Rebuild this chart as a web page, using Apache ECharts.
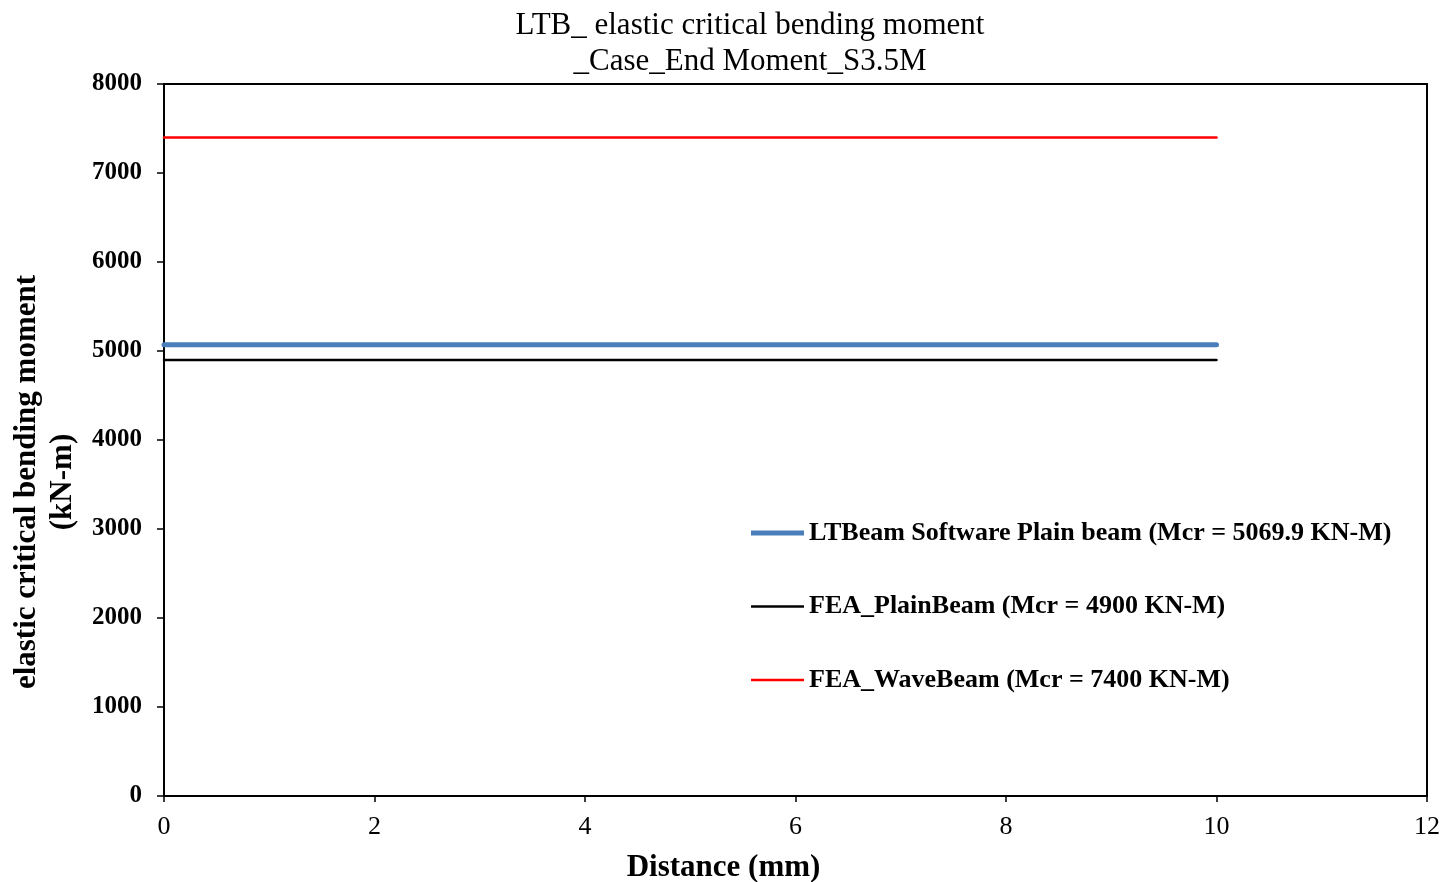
<!DOCTYPE html>
<html><head><meta charset="utf-8">
<script src="https://cdn.jsdelivr.net/npm/echarts@6/dist/echarts.min.js"></script>
<style>html,body{margin:0;padding:0;background:#fff}#c{width:1443px;height:882px}</style>
</head><body><div id="c"></div>
<script>
const xValues = [0, 10];
const seriesNames = [
  'LTBeam Software Plain beam (Mcr = 5069.9 KN-M)',
  'FEA_PlainBeam (Mcr = 4900 KN-M)',
  'FEA_WaveBeam (Mcr = 7400 KN-M)'
];
const ltbeamValues = [5069.9, 5069.9];
const feaPlainValues = [4900, 4900];
const feaWaveValues = [7400, 7400];
const colors = ['#4a7ebb', '#000000', '#ff0000'];
const widths = [5, 2.5, 2.5];
const legendIcons = ['path://M0,0H106V10H0Z', 'path://M0,0H106V5H0Z', 'path://M0,0H106V5H0Z'];

const font = 'Liberation Serif';
const allValues = [ltbeamValues, feaPlainValues, feaWaveValues];
const chart = echarts.init(document.getElementById('c'));
chart.setOption({
  backgroundColor: '#fff',
  animation: false,
  title: {
    text: 'LTB_ elastic critical bending moment\n_Case_End Moment_S3.5M',
    left: 745, top: 3, textAlign: 'center',
    textStyle: { fontFamily: font, fontSize: 31, fontWeight: 'normal', color: '#000', lineHeight: 36 }
  },
  grid: { left: 164, right: 16, top: 84, bottom: 86, show: true, borderColor: '#000', borderWidth: 2, outerBoundsMode: 'none' },
  legend: {
    orient: 'vertical', left: 751, top: 518, padding: 0,
    itemWidth: 53, itemHeight: 14, itemGap: 43.5, symbolKeepAspect: true,
    textStyle: { fontFamily: font, fontSize: 26, fontWeight: 'bold', color: '#000', lineHeight: 30 },
    data: seriesNames.map((n, i) => ({ name: n, icon: legendIcons[i], itemStyle: { color: colors[i] } }))
  },
  xAxis: {
    type: 'value', min: 0, max: 12, interval: 2,
    name: 'Distance (mm)', nameLocation: 'middle', nameGap: 56,
    nameTextStyle: { fontFamily: font, fontSize: 31, fontWeight: 'bold', color: '#000', padding: [0, 144, 0, 0] },
    axisLine: { lineStyle: { color: '#000', width: 2 } },
    axisTick: { show: true, inside: false, length: 6, lineStyle: { color: '#000', width: 1.5 } },
    axisLabel: { fontFamily: font, fontSize: 26, color: '#000', margin: 18 },
    splitLine: { show: false }
  },
  yAxis: {
    type: 'value', min: 0, max: 8000, interval: 1000,
    name: 'elastic critical bending moment\n(kN-m)', nameLocation: 'middle', nameGap: 77,
    nameTextStyle: { fontFamily: font, fontSize: 31, fontWeight: 'bold', color: '#000', lineHeight: 36, padding: [0, 84, 0, 0] },
    axisLine: { show: true, lineStyle: { color: '#000', width: 2 } },
    axisTick: { show: true, inside: false, length: 7, lineStyle: { color: '#000', width: 1.5 } },
    axisLabel: { fontFamily: font, fontSize: 25, fontWeight: 'bold', color: '#000', margin: 22, formatter: v => String(v) },
    splitLine: { show: false }
  },
  series: seriesNames.map((n, i) => ({
    name: n, type: 'line', symbol: 'none',
    data: xValues.map((x, j) => [x, allValues[i][j]]),
    lineStyle: { color: colors[i], width: widths[i], cap: 'round' },
    itemStyle: { color: colors[i] },
    z: 3 - i
  }))
});
</script></body></html>
